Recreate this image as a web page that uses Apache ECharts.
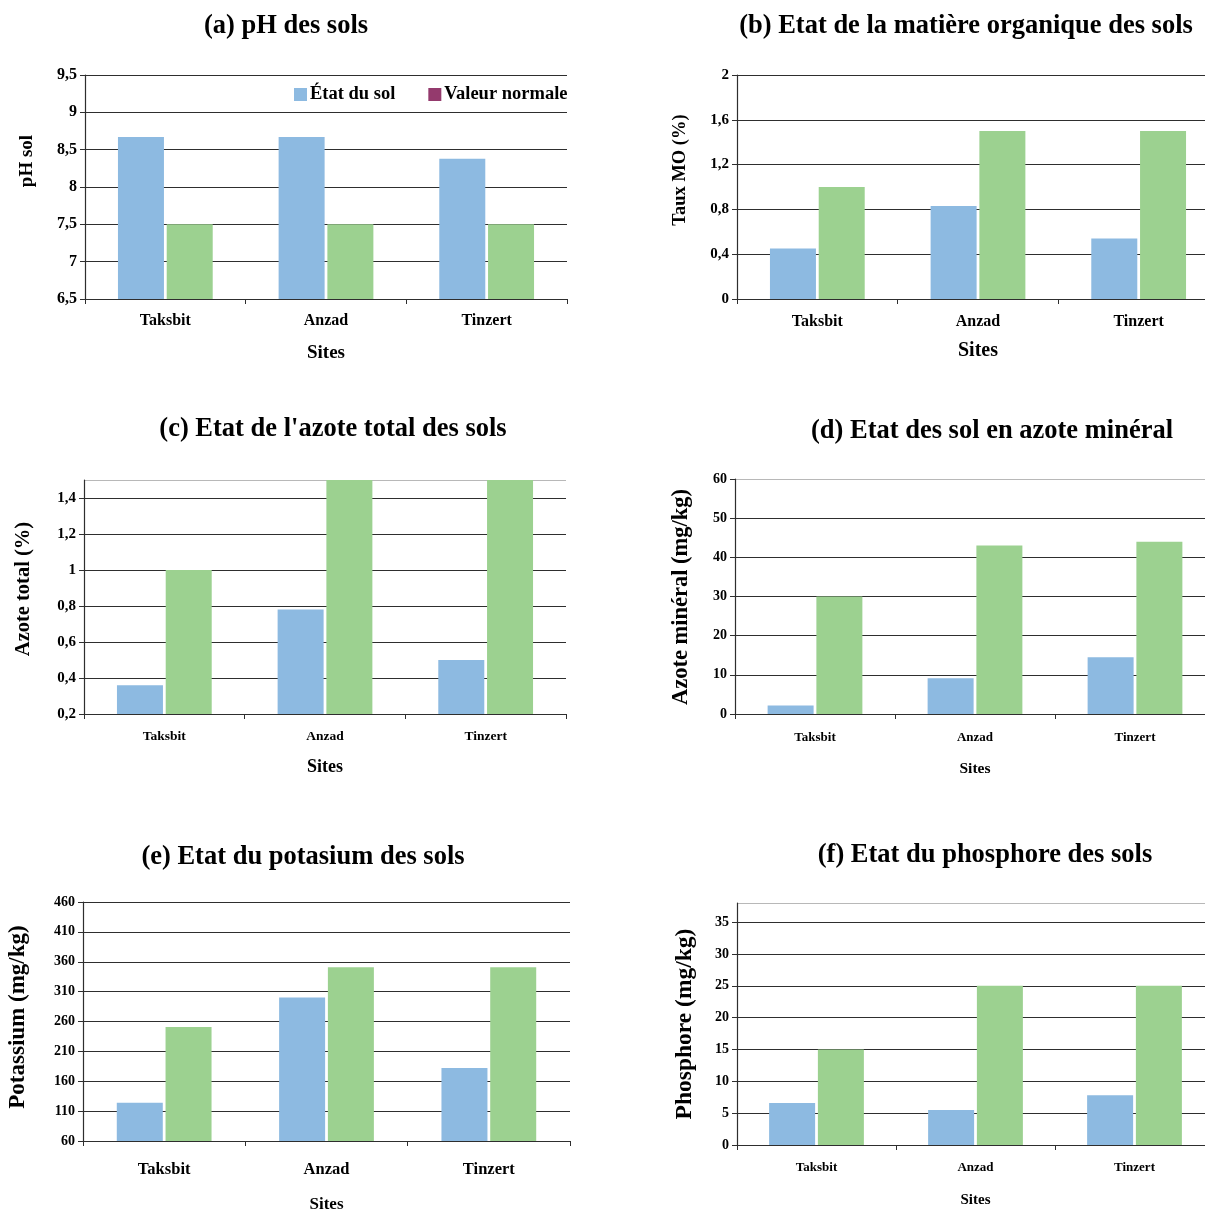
<!DOCTYPE html>
<html>
<head>
<meta charset="utf-8">
<script src="https://cdn.jsdelivr.net/npm/echarts@6/dist/echarts.min.js"></script>
<style>
  html, body { margin: 0; padding: 0; background: #fff; overflow: hidden; }
  /* a bit wider than the window: the right-hand charts run past the page edge */
  #chart { width: 1225px; height: 1214px; }
</style>
</head>
<body>
<div id="chart"></div>
<script>
const sites = ["Taksbit", "Anzad", "Tinzert"];
const seriesNames = ["État du sol", "Valeur normale"];

const phSol = [8.67, 8.67, 8.38];
const phNormal = [7.5, 7.5, 7.5];
const moSol = [0.45, 0.83, 0.54];
const moNormal = [1.0, 1.5, 1.5];
const azoteSol = [0.36, 0.78, 0.5];
const azoteNormal = [1.0, 1.5, 1.5];
const mineralSol = [2.2, 9.1, 14.5];
const mineralNormal = [30, 43, 44];
const potassiumSol = [124, 300, 182];
const potassiumNormal = [251, 351, 351];
const phosphoreSol = [6.6, 5.5, 7.8];
const phosphoreNormal = [15, 25, 25];

// potassium axis starts at 60, ticks every 50
const potassiumTicks = [60, 110, 160, 210, 260, 310, 360, 410, 460];

const FONT = '"Liberation Serif", "Times New Roman", serif';
const blue = "#8DBAE1";
const green = "#9CD190";
const purple = "#943A6D";
const lineColor = "#2e2e2e";
const topGray = "#b8b8b8";

const comma = (v) => String(v).replace(".", ",");

const panels = [
  { title: "(a) pH des sols", tx: 286, ty: 26,
    grid: { left: 85, top: 75, width: 482, height: 224 },
    yName: "pH sol", nx: 27, ny: 161, yNameSize: 19, ySize: 16,
    min: 6.5, max: 9.5, interval: 0.5, showMax: true, grayTop: false,
    catSize: 16, catMargin: 14, xGap: 45, xNameSize: 19,
    sol: phSol, normal: phNormal },
  { title: "(b) Etat de la matière organique des sols", tx: 966, ty: 26,
    grid: { left: 737, top: 75, width: 482, height: 224 },
    yName: "Taux MO (%)", nx: 680, ny: 170, yNameSize: 18.5, ySize: 15,
    min: 0, max: 2, interval: 0.4, showMax: true, grayTop: false,
    catSize: 16, catMargin: 15, xGap: 42, xNameSize: 20,
    sol: moSol, normal: moNormal },
  { title: "(c) Etat de l'azote total des sols", tx: 333, ty: 429,
    grid: { left: 84, top: 480, width: 482, height: 234 },
    yName: "Azote total (%)", nx: 24, ny: 589, yNameSize: 20.5, ySize: 15,
    min: 0.2, max: 1.5, interval: 0.2, showMax: false, grayTop: true,
    catSize: 13.5, catMargin: 16, xGap: 44, xNameSize: 18,
    sol: azoteSol, normal: azoteNormal },
  { title: "(d) Etat des sol en azote minéral", tx: 992, ty: 431,
    grid: { left: 735, top: 479, width: 480, height: 235 },
    yName: "Azote minéral (mg/kg)", nx: 681, ny: 597, yNameSize: 22.5, ySize: 14,
    min: 0, max: 60, interval: 10, showMax: true, grayTop: true,
    catSize: 13, catMargin: 17, xGap: 47, xNameSize: 15.5,
    sol: mineralSol, normal: mineralNormal },
  { title: "(e) Etat du potasium des sols", tx: 303, ty: 857,
    grid: { left: 83, top: 902, width: 487, height: 241 },
    yName: "Potassium (mg/kg)", nx: 18, ny: 1017, yNameSize: 23, ySize: 14,
    min: 60, max: 460, interval: 50, ticks: potassiumTicks, showMax: true, grayTop: false,
    catSize: 16.5, catMargin: 20, xGap: 55, xNameSize: 17,
    sol: potassiumSol, normal: potassiumNormal },
  { title: "(f) Etat du phosphore des sols", tx: 985, ty: 855,
    grid: { left: 737, top: 903, width: 477, height: 242 },
    yName: "Phosphore (mg/kg)", nx: 685, ny: 1024, yNameSize: 23.5, ySize: 14,
    min: 0, max: 38, interval: 5, showMax: false, grayTop: true,
    catSize: 13, catMargin: 16, xGap: 48, xNameSize: 15,
    sol: phosphoreSol, normal: phosphoreNormal }
];

const grids = [], xAxes = [], yAxes = [], series = [], graphics = [];

panels.forEach((p, i) => {
  grids.push(p.grid);
  graphics.push({
    type: "text", x: p.tx, y: p.ty,
    style: { text: p.title, font: "bold 26.5px " + FONT, fill: "#000",
             textAlign: "center", textVerticalAlign: "middle" }
  });
  graphics.push({
    type: "text", x: p.nx, y: p.ny, rotation: Math.PI / 2,
    style: { text: p.yName, font: "bold " + p.yNameSize + "px " + FONT, fill: "#000",
             textAlign: "center", textVerticalAlign: "middle" }
  });

  xAxes.push({
    type: "category", gridIndex: i, data: sites,
    name: "Sites", nameLocation: "middle", nameGap: p.xGap,
    nameTextStyle: { fontFamily: FONT, fontWeight: "bold", fontSize: p.xNameSize, color: "#000" },
    axisLine: { lineStyle: { color: lineColor, width: 1.2 } },
    axisTick: { show: true, length: 5, lineStyle: { color: lineColor } },
    axisLabel: { fontFamily: FONT, fontWeight: "bold", fontSize: p.catSize, color: "#000", margin: p.catMargin }
  });

  // split line colours, bottom to top; the top edge is lighter on some charts
  const span = p.max - p.min;
  let nLines = Math.floor(span / p.interval + 1e-9) + 1;
  if (Math.abs(span / p.interval - Math.round(span / p.interval)) > 1e-9) nLines += 1;
  const splitColors = [];
  for (let k = 0; k < nLines; k++) splitColors.push(p.grayTop && k === nLines - 1 ? topGray : lineColor);

  const yCommon = {
    type: "value", gridIndex: i,
    axisLine: { show: true, lineStyle: { color: lineColor, width: 1.2 } },
    axisTick: { show: true, length: 5, lineStyle: { color: lineColor } },
    splitLine: { show: true, lineStyle: { color: splitColors, width: 1 } },
    axisLabel: { fontFamily: FONT, fontWeight: "bold", fontSize: p.ySize, color: "#000", margin: 8,
                 showMaxLabel: p.showMax }
  };

  let barAxis;
  if (p.ticks) {
    // visible axis carries the 60,110,... labels; bars use the real-value axis below
    yAxes.push(Object.assign({}, yCommon, {
      min: 0, max: span, interval: p.interval,
      axisLabel: Object.assign({}, yCommon.axisLabel, {
        formatter: (v) => String(p.ticks[Math.round(v / p.interval)])
      })
    }));
    yAxes.push({ type: "value", gridIndex: i, min: p.min, max: p.max, show: false, splitLine: { show: false } });
    barAxis = yAxes.length - 1;
  } else {
    yAxes.push(Object.assign({}, yCommon, {
      min: p.min, max: p.max, interval: p.interval,
      axisLabel: Object.assign({}, yCommon.axisLabel, { formatter: comma })
    }));
    barAxis = yAxes.length - 1;
  }

  series.push({
    name: seriesNames[0], type: "bar", xAxisIndex: i, yAxisIndex: barAxis,
    data: p.sol, barWidth: 46, barGap: "6%",
    itemStyle: { color: blue }
  });
  series.push({
    name: seriesNames[1], type: "bar", xAxisIndex: i, yAxisIndex: barAxis,
    data: p.normal.map((v) => ({ value: v, itemStyle: { color: green } })),
    barWidth: 46, barGap: "6%",
    itemStyle: { color: purple }
  });
});

const chart = echarts.init(document.getElementById("chart"));
chart.setOption({
  animation: false,
  backgroundColor: "#fff",
  grid: grids,
  xAxis: xAxes,
  yAxis: yAxes,
  legend: {
    data: seriesNames, left: 294, top: 85, padding: 0,
    itemWidth: 13, itemHeight: 13, itemGap: 33,
    icon: "rect",
    textStyle: { fontFamily: FONT, fontWeight: "bold", fontSize: 18.5, color: "#000", padding: [0, 0, 0, -2] }
  },
  graphic: graphics,
  series: series
});
</script>
</body>
</html>
